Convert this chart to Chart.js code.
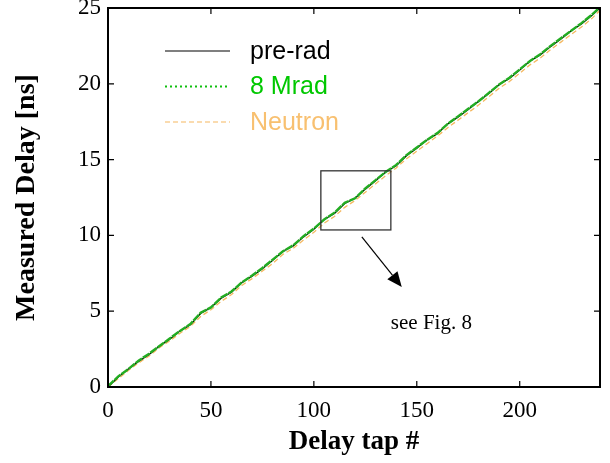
<!DOCTYPE html>
<html>
<head>
<meta charset="utf-8">
<script src="https://cdn.jsdelivr.net/npm/chart.js@4/dist/chart.umd.min.js"></script>
<style>
  html, body { margin: 0; padding: 0; background: #fff; }
  #wrap { width: 610px; height: 463px; }
</style>
</head>
<body>
<div id="wrap"><canvas id="plot" width="610" height="463"></canvas></div>
<script>
/* delay taps and measured delays */
var taps = [0, 5, 10, 15, 20, 25, 30, 35, 40, 45, 50, 55, 60, 65, 70, 75, 80, 85, 90, 95,
            100, 105, 110, 115, 120, 125, 130, 135, 140, 145, 150, 155, 160, 165, 170, 175,
            180, 185, 190, 195, 200, 205, 210, 215, 220, 225, 230, 235, 239];

var preRad = [0.0, 0.65, 1.2, 1.7, 2.15, 2.7, 3.15, 3.7, 4.1, 4.85, 5.25, 5.85, 6.25, 6.9, 7.3, 7.8,
              8.35, 8.95, 9.3, 9.9, 10.4, 11.05, 11.45, 12.1, 12.45, 13.05, 13.6, 14.2, 14.6, 15.25,
              15.75, 16.3, 16.7, 17.35, 17.8, 18.3, 18.85, 19.35, 19.95, 20.35, 20.9, 21.5, 21.9,
              22.45, 22.95, 23.5, 23.95, 24.5, 25.0];

var mrad8 = [0.05, 0.7, 1.2, 1.75, 2.2, 2.7, 3.2, 3.7, 4.15, 4.9, 5.25, 5.9, 6.3, 6.9, 7.35, 7.85,
             8.4, 8.95, 9.35, 9.95, 10.45, 11.05, 11.5, 12.15, 12.45, 13.1, 13.65, 14.2, 14.65, 15.3,
             15.8, 16.3, 16.75, 17.35, 17.85, 18.35, 18.85, 19.4, 19.95, 20.4, 20.95, 21.5, 21.95,
             22.5, 23.0, 23.5, 24.0, 24.55, 25.05];

var neutron = [0.0, 0.55, 1.1, 1.6, 2.05, 2.6, 3.05, 3.55, 4.0, 4.65, 5.1, 5.65, 6.1, 6.7, 7.15, 7.65,
               8.15, 8.75, 9.15, 9.7, 10.2, 10.8, 11.25, 11.85, 12.3, 12.85, 13.4, 13.95, 14.45, 15.05,
               15.55, 16.05, 16.55, 17.1, 17.6, 18.1, 18.6, 19.15, 19.7, 20.15, 20.7, 21.25, 21.7,
               22.25, 22.75, 23.25, 23.75, 24.3, 24.85];

var seriesNames = ["pre-rad", "8 Mrad", "Neutron"];
var xTickStep = 50;
var yTickStep = 5;

/* zoom box and pointer, in data units */
var zoomBox = { x0: 103.4, x1: 137.4, y0: 10.36, y1: 14.26 };
var pointer = { x0: 123.3, y0: 9.9, x1: 142.7, y1: 6.6 };
var note = { x: 137.4, y: 3.83, text: "see Fig. 8" };

var serif = "'Liberation Serif', 'Times New Roman', serif";
var sans = "'Liberation Sans', Arial, sans-serif";

function pairs(ys) {
    return taps.map(function (t, i) { return { x: t, y: ys[i] }; });
}

var legendRows = [
    { name: seriesNames[0], color: '#000000', text: '#000000', dash: [], width: 1.2 },
    { name: seriesNames[1], color: '#0fbf0f', text: '#00c800', dash: [2, 3], width: 2.2 },
    { name: seriesNames[2], color: '#f5b860', text: '#f8c070', dash: [5, 3], width: 1.2 }
];

var frameAndNotes = {
    id: 'frameAndNotes',
    afterDatasetsDraw: function (chart) {
        var ctx = chart.ctx, a = chart.chartArea;
        var xs = chart.scales.x, ys = chart.scales.y;
        ctx.save();

        // frame
        ctx.strokeStyle = '#000';
        ctx.lineWidth = 2;
        ctx.strokeRect(a.left, a.top, a.right - a.left, a.bottom - a.top);

        // inward ticks on all sides
        ctx.lineWidth = 1.2;
        ctx.beginPath();
        xs.ticks.forEach(function (t) {
            var px = xs.getPixelForValue(t.value);
            if (t.value === xs.min) return;
            ctx.moveTo(px, a.bottom); ctx.lineTo(px, a.bottom - 6);
            ctx.moveTo(px, a.top); ctx.lineTo(px, a.top + 6);
        });
        ys.ticks.forEach(function (t) {
            var py = ys.getPixelForValue(t.value);
            if (t.value === ys.min || t.value === ys.max) return;
            ctx.moveTo(a.left, py); ctx.lineTo(a.left + 6, py);
            ctx.moveTo(a.right, py); ctx.lineTo(a.right - 6, py);
        });
        ctx.stroke();

        // zoom box
        var bx0 = xs.getPixelForValue(zoomBox.x0), bx1 = xs.getPixelForValue(zoomBox.x1);
        var by0 = ys.getPixelForValue(zoomBox.y0), by1 = ys.getPixelForValue(zoomBox.y1);
        ctx.strokeStyle = '#333';
        ctx.lineWidth = 1.3;
        ctx.strokeRect(bx0, by1, bx1 - bx0, by0 - by1);

        // pointer arrow
        var px0 = xs.getPixelForValue(pointer.x0), py0 = ys.getPixelForValue(pointer.y0);
        var px1 = xs.getPixelForValue(pointer.x1), py1 = ys.getPixelForValue(pointer.y1);
        var ang = Math.atan2(py1 - py0, px1 - px0);
        var head = 15, half = 6.5;
        var bxh = px1 - head * Math.cos(ang), byh = py1 - head * Math.sin(ang);
        ctx.strokeStyle = '#000';
        ctx.lineWidth = 1.2;
        ctx.beginPath();
        ctx.moveTo(px0, py0); ctx.lineTo(bxh, byh);
        ctx.stroke();
        ctx.fillStyle = '#000';
        ctx.beginPath();
        ctx.moveTo(px1, py1);
        ctx.lineTo(bxh + half * Math.sin(ang), byh - half * Math.cos(ang));
        ctx.lineTo(bxh - half * Math.sin(ang), byh + half * Math.cos(ang));
        ctx.closePath();
        ctx.fill();

        // note text
        ctx.font = '21px ' + serif;
        ctx.textAlign = 'left';
        ctx.textBaseline = 'alphabetic';
        ctx.fillText(note.text, xs.getPixelForValue(note.x), ys.getPixelForValue(note.y));

        // legend
        ctx.font = '25px ' + sans;
        ctx.textBaseline = 'middle';
        legendRows.forEach(function (r, i) {
            var y = 51 + i * 35.5;
            ctx.strokeStyle = r.color;
            ctx.lineWidth = r.width;
            ctx.setLineDash(r.dash);
            ctx.beginPath();
            ctx.moveTo(165, y); ctx.lineTo(230, y);
            ctx.stroke();
            ctx.setLineDash([]);
            ctx.fillStyle = r.text;
            ctx.fillText(r.name, 250, y + 1);
        });
        ctx.restore();
    }
};

var lineChart = new Chart(document.getElementById('plot'), {
    type: 'line',
    data: {
        datasets: [{
            label: seriesNames[1],
            data: pairs(mrad8),
            borderColor: '#22ad22',
            borderWidth: 2.4,
            borderDash: [8, 1]
        }, {
            label: seriesNames[0],
            data: pairs(preRad),
            borderColor: '#000000',
            borderWidth: 1.2
        }, {
            label: seriesNames[2],
            data: pairs(neutron),
            borderColor: '#f5b860',
            borderWidth: 1.3,
            borderDash: [5, 3]
        }]
    },
    options: {
        responsive: false,
        animation: false,
        elements: { point: { radius: 0 }, line: { tension: 0 } },
        layout: { padding: { top: 8, right: 10, left: 0, bottom: 0 } },
        plugins: { legend: { display: false }, tooltip: { enabled: false } },
        scales: {
            x: {
                type: 'linear',
                min: 0,
                max: 239,
                afterFit: function (s) { s.height = 76; s.paddingLeft = 0; s.paddingRight = 0; },
                afterBuildTicks: function (s) {
                    s.ticks = s.ticks.filter(function (t) { return t.value % xTickStep === 0; });
                },
                grid: { display: false, drawTicks: false },
                border: { display: false },
                ticks: { stepSize: xTickStep, padding: 10, color: '#000', font: { family: serif, size: 23 } },
                title: { display: true, text: 'Delay tap #', color: '#000',
                         font: { family: serif, size: 27, weight: 'bold' }, padding: { top: 0, bottom: 5 } }
            },
            y: {
                min: 0,
                max: 25,
                afterFit: function (s) { s.width = 108; s.paddingTop = 0; s.paddingBottom = 0; },
                grid: { display: false, drawTicks: false },
                border: { display: false },
                ticks: { stepSize: yTickStep, padding: 7, color: '#000', font: { family: serif, size: 23 } },
                title: { display: true, text: 'Measured Delay [ns]', color: '#000',
                         font: { family: serif, size: 28, weight: 'bold' }, padding: { top: 10, bottom: 0 } }
            }
        }
    },
    plugins: [frameAndNotes]
});
</script>
</body>
</html>
